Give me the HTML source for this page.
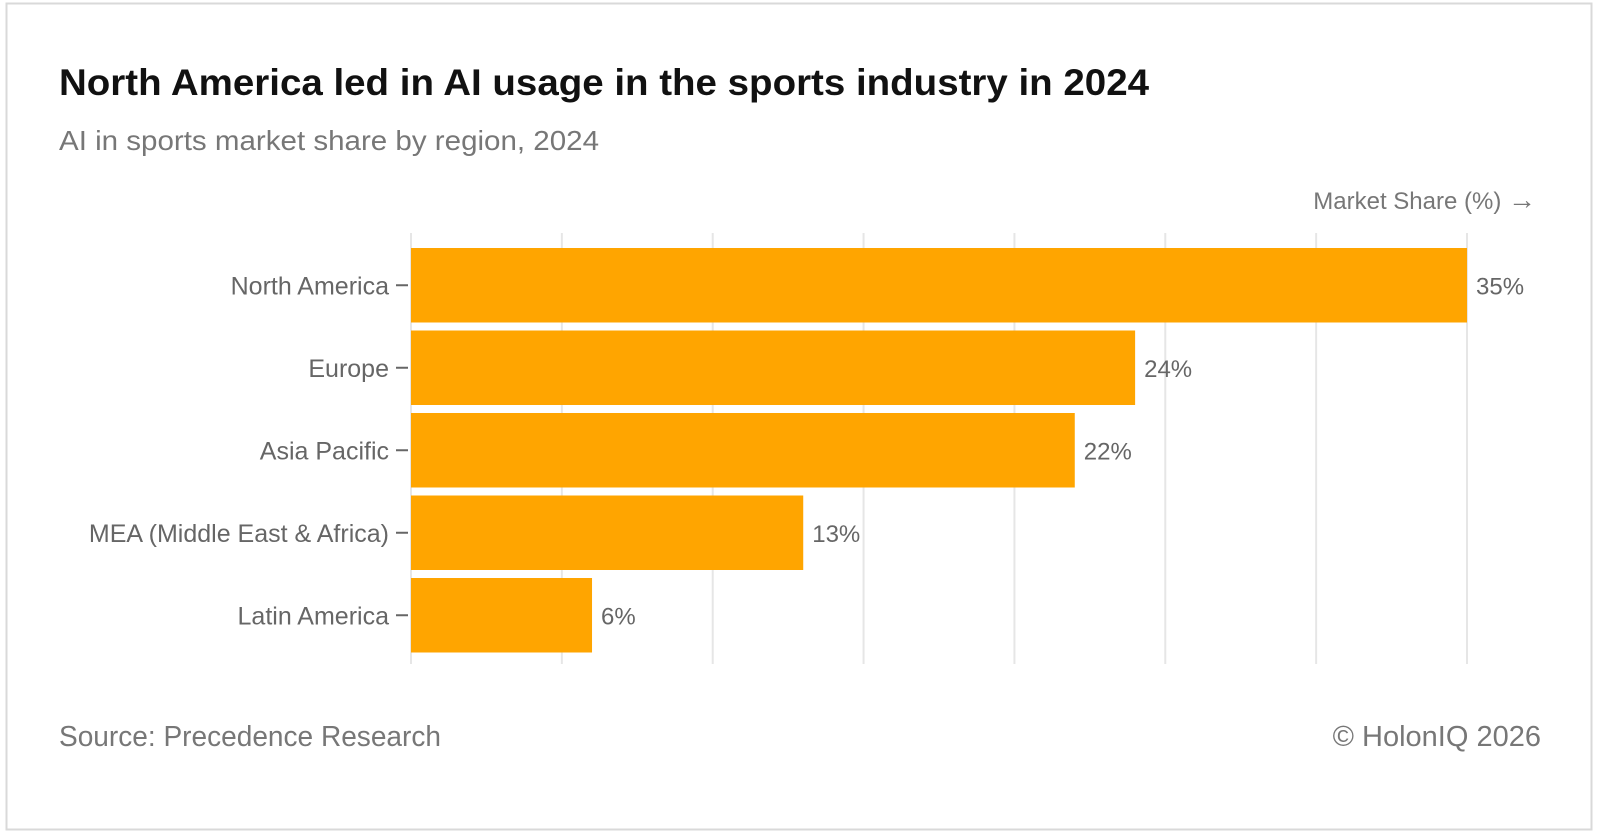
<!DOCTYPE html>
<html><head><meta charset="utf-8"><style>
html,body{margin:0;padding:0;background:#fff;}
svg{display:block;font-family:"Liberation Sans",sans-serif;}
</style></head><body>
<svg id="chart" width="1600" height="833" viewBox="0 0 1600 833">
<rect x="6.5" y="3.5" width="1585" height="826" fill="#fff" stroke="#d9d9d9" stroke-width="2"/>
<text x="59" y="95" font-size="37" font-weight="bold" fill="#111" textLength="1090" lengthAdjust="spacingAndGlyphs">North America led in AI usage in the sports industry in 2024</text>
<text x="59" y="150" font-size="28" fill="#777" textLength="540" lengthAdjust="spacingAndGlyphs">AI in sports market share by region, 2024</text>
<text x="1536" y="209" font-size="24" fill="#777" text-anchor="end">Market Share (%) <tspan font-size="28">→</tspan></text>
<g id="grid"></g>
<g id="bars"></g>
<text x="59" y="746" font-size="29" fill="#777" textLength="382" lengthAdjust="spacingAndGlyphs">Source: Precedence Research</text>
<text x="1541" y="746" font-size="29" fill="#777" text-anchor="end">© HolonIQ 2026</text>
</svg>
<script>
const categories=["North America","Europe","Asia Pacific","MEA (Middle East & Africa)","Latin America"];
const values=[35,24,22,13,6];
const valueLabels=["35%","24%","22%","13%","6%"];
const gridTicks=[0,5,10,15,20,25,30,35];
const NS="http://www.w3.org/2000/svg";
const x0=411,x1=1467,xMax=35,yTop=248,band=82.5,barH=74.5;
function xs(v){return x0+(v/xMax)*(x1-x0);}
function ys(i){return yTop+i*band;}
const grid=document.getElementById('grid'),bars=document.getElementById('bars');
gridTicks.forEach(t=>{
  const l=document.createElementNS(NS,'line');
  l.setAttribute('x1',xs(t));l.setAttribute('x2',xs(t));l.setAttribute('y1',233);l.setAttribute('y2',664);
  l.setAttribute('stroke','#e6e6e6');l.setAttribute('stroke-width','2');
  
  
  grid.appendChild(l);
});
categories.forEach((c,i)=>{
  const y=ys(i);
  const r=document.createElementNS(NS,'rect');
  r.setAttribute('x',xs(0));r.setAttribute('y',y);r.setAttribute('width',xs(values[i])-xs(0));r.setAttribute('height',barH);
  r.setAttribute('fill','#ffa500');
  
  
  bars.appendChild(r);
  const tk=document.createElementNS(NS,'line');
  tk.setAttribute('x1',396);tk.setAttribute('x2',408);tk.setAttribute('y1',y+barH/2);tk.setAttribute('y2',y+barH/2);
  tk.setAttribute('stroke','#666');tk.setAttribute('stroke-width','2');
  
  
  bars.appendChild(tk);
  const lt=document.createElementNS(NS,'text');
  lt.setAttribute('x',389);lt.setAttribute('y',y+barH/2+9);lt.setAttribute('text-anchor','end');
  lt.setAttribute('font-size','25');lt.setAttribute('fill','#666');lt.textContent=c;
  
  
  bars.appendChild(lt);
  const vt=document.createElementNS(NS,'text');
  vt.setAttribute('x',xs(values[i])+9);vt.setAttribute('y',y+barH/2+9);
  vt.setAttribute('font-size','24');vt.setAttribute('fill','#666');vt.textContent=valueLabels[i];
  
  
  bars.appendChild(vt);
});
</script>
</body></html>
